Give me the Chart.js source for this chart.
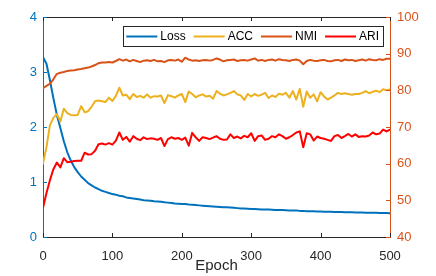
<!DOCTYPE html>
<html>
<head>
<meta charset="utf-8">
<script src="https://cdn.jsdelivr.net/npm/chart.js@4/dist/chart.umd.min.js"></script>
<style>
html,body{margin:0;padding:0;background:#fff;}
#wrap{width:436px;height:276px;position:relative;}
</style>
</head>
<body>
<div id="wrap"><canvas id="c" width="436" height="276"></canvas></div>
<script>
// ---- data ----
const epochs = [0,5,10,15,20,25,30,35,40,45,50,55,60,65,70,75,80,85,90,95,100,105,110,115,120,125,130,135,140,145,150,155,160,165,170,175,180,185,190,195,200,205,210,215,220,225,230,235,240,245,250,255,260,265,270,275,280,285,290,295,300,305,310,315,320,325,330,335,340,345,350,355,360,365,370,375,380,385,390,395,400,405,410,415,420,425,430,435,440,445,450,455,460,465,470,475,480,485,490,495,500];

const lossValues = [3.27,3.15,2.85,2.52,2.22,1.98,1.74,1.54,1.39,1.27,1.18,1.10,1.04,0.98,0.94,0.90,0.87,0.84,0.82,0.80,0.78,0.77,0.75,0.74,0.72,0.71,0.70,0.69,0.68,0.67,0.665,0.66,0.65,0.645,0.64,0.63,0.625,0.62,0.61,0.605,0.60,0.60,0.59,0.585,0.58,0.575,0.57,0.565,0.56,0.555,0.55,0.545,0.54,0.54,0.535,0.53,0.525,0.52,0.52,0.515,0.51,0.51,0.505,0.50,0.50,0.50,0.495,0.49,0.49,0.49,0.485,0.48,0.48,0.48,0.475,0.475,0.47,0.47,0.47,0.465,0.465,0.46,0.46,0.46,0.455,0.455,0.455,0.45,0.45,0.45,0.445,0.445,0.445,0.44,0.44,0.44,0.44,0.435,0.435,0.435,0.43];

const accValues = [60.0,64.5,70.5,72.5,73.5,71.5,75.0,73.8,73.3,73.2,73.3,75.7,74.0,74.3,75.5,77.0,77.2,77.0,76.8,78.0,77.1,78.5,80.7,78.6,78.8,77.6,79.0,78.2,78.5,78.0,78.9,78.0,78.4,78.3,78.6,76.5,78.7,78.4,78.0,78.6,79.0,76.8,79.7,79.0,78.1,78.6,78.9,78.3,78.5,77.7,79.8,79.1,78.6,78.9,79.3,79.8,78.9,78.6,77.4,79.0,78.3,79.0,78.5,78.8,79.3,77.9,78.6,78.2,79.1,78.8,79.3,78.0,79.8,77.5,80.4,75.5,79.7,78.0,78.9,77.0,79.5,78.3,77.5,78.0,78.6,79.3,79.0,79.2,79.0,78.8,79.0,79.0,79.3,79.8,79.2,79.6,79.9,79.5,80.3,80.0,80.2];

const nmiValues = [80.6,81.2,81.8,83.0,84.5,84.8,85.0,85.3,85.4,85.5,85.7,85.8,86.0,86.2,86.5,86.9,87.4,87.6,87.6,87.7,87.6,88.0,88.5,88.1,88.4,87.9,88.3,88.0,87.7,88.1,88.2,88.0,88.3,87.9,88.0,87.7,88.2,88.3,88.1,88.4,87.8,88.9,88.4,88.1,88.2,88.0,88.2,88.3,88.1,88.3,88.7,88.4,87.9,88.2,88.3,88.4,88.0,88.2,88.3,88.1,88.4,88.7,88.1,88.3,88.0,88.3,88.4,88.1,88.5,88.3,88.2,88.0,88.3,88.4,88.1,87.1,88.0,88.3,88.1,88.0,88.2,88.3,88.0,87.9,88.2,88.3,88.0,88.4,88.2,88.3,88.0,88.2,88.4,88.1,88.5,88.3,88.2,88.5,88.3,88.6,88.6];

const ariValues = [48.0,52.0,55.5,58.5,60.3,59.0,61.5,60.4,60.5,60.7,60.8,60.8,63.0,62.5,62.6,63.5,65.3,65.5,65.2,65.6,65.2,66.3,68.5,66.5,67.3,66.0,67.5,66.8,66.4,67.2,66.7,66.9,66.8,66.5,67.0,64.8,66.7,67.2,66.8,67.0,66.5,67.1,64.9,68.4,67.2,66.2,67.2,67.0,66.7,67.1,67.5,66.8,66.5,66.6,68.0,67.0,67.4,66.9,67.6,67.2,68.3,66.2,67.5,67.7,66.5,66.8,67.5,67.2,68.0,67.5,66.8,67.2,67.8,68.5,68.8,64.5,68.3,68.0,66.3,67.4,67.0,66.8,66.5,66.2,67.5,67.8,67.0,67.5,68.1,67.4,68.0,67.3,67.5,67.4,67.7,68.5,68.0,68.2,69.3,68.8,69.3];

const seriesNames = ['Loss','ACC','NMI','ARI'];
const xTitle = 'Epoch';
const xTicks = [0,100,200,300,400,500];
const leftTicks = [0,1,2,3,4];
const rightTicks = [40,50,60,70,80,90,100];

// ---- styles ----
const BLUE = '#0072BD', ORANGE = '#D95319', YELLOW = '#EDB120', RED = '#FF0000', DARK = '#262626';
const FONT = '"Liberation Sans", Arial, Helvetica, sans-serif';

const toXY = vals => vals.map((v, i) => ({x: epochs[i], y: v}));

const framePlugin = {
  id: 'frame',
  afterDatasetsDraw(chart) {
    const {ctx, chartArea: a, scales} = chart;
    const tl = 4;
    ctx.save();
    ctx.lineWidth = 1;
    ctx.strokeStyle = DARK;
    ctx.beginPath();
    ctx.moveTo(a.left, a.top + 0.5); ctx.lineTo(a.right, a.top + 0.5);
    ctx.stroke();
    ctx.beginPath();
    xTicks.forEach(v => {
      const px = Math.round(scales.x.getPixelForValue(v)) + 0.5;
      ctx.moveTo(px, a.bottom); ctx.lineTo(px, a.bottom - tl);
      ctx.moveTo(px, a.top); ctx.lineTo(px, a.top + tl);
    });
    ctx.stroke();
    ctx.strokeStyle = BLUE;
    ctx.beginPath();
    leftTicks.forEach(v => {
      const py = Math.round(scales.y.getPixelForValue(v)) + 0.5;
      ctx.moveTo(a.left, py); ctx.lineTo(a.left + tl, py);
    });
    ctx.stroke();
    ctx.strokeStyle = ORANGE;
    ctx.beginPath();
    rightTicks.forEach(v => {
      const py = Math.round(scales.y1.getPixelForValue(v)) + 0.5;
      ctx.moveTo(a.right, py); ctx.lineTo(a.right - tl, py);
    });
    ctx.stroke();
    ctx.restore();
  },
  afterDraw(chart) {
    const {ctx, chartArea: a} = chart;
    const colors = [BLUE, YELLOW, ORANGE, RED];
    ctx.save();
    ctx.font = '12px ' + FONT;
    const sample = 31, gapIn = 3, gapOut = 8, padL = 3, padR = 4;
    let w = padL;
    seriesNames.forEach((n, i) => {
      w += sample + gapIn + ctx.measureText(n).width + (i < seriesNames.length - 1 ? gapOut : 0);
    });
    w += padR;
    const right = a.right - 7, top = a.top + 9, h = 20;
    const left = right - w;
    ctx.fillStyle = '#fff';
    ctx.fillRect(left, top, w, h);
    ctx.strokeStyle = DARK; ctx.lineWidth = 1;
    ctx.strokeRect(Math.round(left) + 0.5, Math.round(top) + 0.5, Math.round(w), h);
    let x = left + padL;
    const cy = top + h / 2 + 0.5;
    seriesNames.forEach((n, i) => {
      ctx.strokeStyle = colors[i]; ctx.lineWidth = 2;
      ctx.beginPath(); ctx.moveTo(x, cy); ctx.lineTo(x + sample, cy); ctx.stroke();
      x += sample + gapIn;
      ctx.fillStyle = '#000'; ctx.textBaseline = 'middle'; ctx.textAlign = 'left';
      ctx.fillText(n, x, cy + 0.5);
      x += ctx.measureText(n).width + gapOut;
    });
    ctx.restore();
  }
};

new Chart(document.getElementById('c'), {
  type: 'line',
  data: {
    datasets: [
      {label: seriesNames[0], data: toXY(lossValues), yAxisID: 'y', borderColor: BLUE, order: 4},
      {label: seriesNames[1], data: toXY(accValues), yAxisID: 'y1', borderColor: YELLOW, order: 3},
      {label: seriesNames[2], data: toXY(nmiValues), yAxisID: 'y1', borderColor: ORANGE, order: 2},
      {label: seriesNames[3], data: toXY(ariValues), yAxisID: 'y1', borderColor: RED, order: 1}
    ]
  },
  options: {
    responsive: false,
    animation: false,
    devicePixelRatio: 1,
    layout: {padding: {top: 17, left: 0, right: 0, bottom: 0}},
    elements: {
      point: {radius: 0, hoverRadius: 0},
      line: {borderWidth: 2, tension: 0, fill: false, borderJoinStyle: 'round', borderCapStyle: 'round'}
    },
    plugins: {legend: {display: false}, tooltip: {enabled: false}},
    scales: {
      x: {
        type: 'linear', min: 0, max: 500,
        afterBuildTicks: s => { s.ticks = xTicks.map(v => ({value: v})); },
        afterFit: s => { s.height = 39; },
        grid: {display: false, drawTicks: false},
        border: {display: true, color: DARK, width: 1},
        ticks: {color: DARK, padding: 12, font: {family: FONT, size: 13}, maxRotation: 0, autoSkip: false},
        title: {display: true, text: xTitle, color: DARK, font: {family: FONT, size: 15}, padding: {top: 0, bottom: 1}}
      },
      y: {
        type: 'linear', position: 'left', min: 0, max: 4,
        afterBuildTicks: s => { s.ticks = leftTicks.map(v => ({value: v})); },
        afterFit: s => { s.width = 43; },
        grid: {display: false, drawTicks: false},
        border: {display: true, color: BLUE, width: 1},
        ticks: {color: BLUE, padding: 6, font: {family: FONT, size: 13}}
      },
      y1: {
        type: 'linear', position: 'right', min: 40, max: 100,
        afterBuildTicks: s => { s.ticks = rightTicks.map(v => ({value: v})); },
        afterFit: s => { s.width = 46; },
        grid: {display: false, drawTicks: false},
        border: {display: true, color: ORANGE, width: 1},
        ticks: {color: ORANGE, padding: 7, font: {family: FONT, size: 13}}
      }
    }
  },
  plugins: [framePlugin]
});
</script>
</body>
</html>
